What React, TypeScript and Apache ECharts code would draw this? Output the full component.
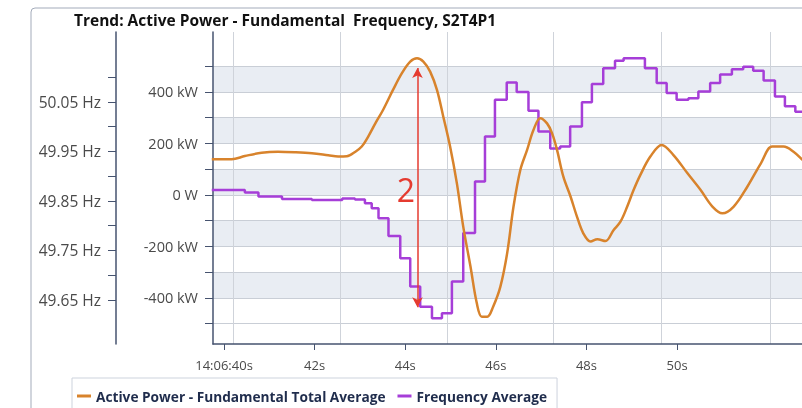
import React, { useEffect, useRef } from 'react';
import * as echarts from 'echarts';

const TITLE = 'Trend: Active Power - Fundamental  Frequency, S2T4P1';
const POWER_NAME = 'Active Power - Fundamental Total Average';
const FREQ_NAME = 'Frequency Average';

// time = seconds after 14:06:00
const powerTime = [39.73, 40.17, 40.46, 40.83, 41.19, 41.57, 41.94, 42.30, 42.52, 42.71, 42.90, 43.04, 43.18, 43.34, 43.51, 43.73, 43.93, 44.11, 44.26, 44.40, 44.55, 44.70, 44.84, 44.99, 45.14, 45.28, 45.44, 45.58, 45.69, 45.81, 45.94, 46.10, 46.25, 46.39, 46.54, 46.69, 46.83, 46.98, 47.13, 47.24, 47.35, 47.49, 47.65, 47.79, 47.93, 48.09, 48.24, 48.42, 48.60, 48.75, 48.90, 49.04, 49.19, 49.41, 49.66, 49.92, 50.23, 50.52, 50.78, 51.00, 51.25, 51.55, 51.85, 52.10, 52.35, 52.57, 52.77, 53.0];
const powerKW = [139, 139, 151, 164, 168, 166, 162, 154, 149, 150, 168, 188, 226, 278, 330, 408, 474, 518, 531, 518, 479, 408, 304, 188, 45, -123, -278, -421, -473, -473, -434, -356, -226, -45, 97, 175, 252, 298, 278, 240, 175, 71, -7, -84, -149, -181, -172, -179, -136, -104, -45, 19, 78, 149, 194, 155, 84, 19, -45, -71, -45, 32, 123, 188, 188, 168, 136, 95];

const freqTime = [39.73, 40.46, 40.76, 41.28, 41.94, 42.61, 42.89, 43.11, 43.26, 43.41, 43.63, 43.89, 44.11, 44.33, 44.59, 44.81, 45.03, 45.28, 45.54, 45.76, 45.98, 46.24, 46.46, 46.72, 46.94, 47.20, 47.42, 47.64, 47.90, 48.12, 48.37, 48.63, 48.82, 49.29, 49.55, 49.77, 49.99, 50.25, 50.47, 50.73, 50.95, 51.21, 51.46, 51.68, 51.91, 52.16, 52.38, 52.61, 53.0];
const freqHz = [49.872, 49.867, 49.859, 49.854, 49.852, 49.855, 49.853, 49.845, 49.835, 49.815, 49.779, 49.734, 49.677, 49.636, 49.613, 49.623, 49.687, 49.785, 49.889, 49.980, 50.054, 50.089, 50.070, 50.032, 49.990, 49.956, 49.960, 50.000, 50.049, 50.086, 50.118, 50.133, 50.138, 50.118, 50.088, 50.068, 50.054, 50.057, 50.071, 50.088, 50.105, 50.116, 50.121, 50.113, 50.093, 50.061, 50.041, 50.030, 50.030];

const timeTicks = [40, 42, 44, 46, 48, 50];
const timeGridLines = [40.2, 42.56, 44.92, 47.26, 49.65, 52.05];
const powerTicks = [-500, -400, -300, -200, -100, 0, 100, 200, 300, 400, 500];
const powerLabels = [-400, -200, 0, 200, 400];
const freqTicks = [49.65, 49.7, 49.75, 49.8, 49.85, 49.9, 49.95, 50.0, 50.05, 50.1];
const freqLabels = [49.65, 49.75, 49.85, 49.95, 50.05];

// annotation: peak-to-trough double arrow
const arrowTime = 44.27;
const arrowTop = 493;
const arrowBottom = -436;

const FONT = '"Open Sans", sans-serif';
const ORANGE = '#d8832c';
const PURPLE = '#a63ed8';
const AXIS = '#46536f';
const LABEL = '#4a4a4a';

export default function App() {
  const ref = useRef<HTMLDivElement>(null);
  useEffect(() => {
    if (!ref.current) return;
    const chart = echarts.init(ref.current, undefined, { renderer: 'svg' });
    const powerData = powerTime.map((t, i) => [t, powerKW[i]]);
    const freqData = freqTime.map((t, i) => [t, freqHz[i]]);
    chart.setOption({
      animation: false,
      textStyle: { fontFamily: FONT },
      title: {
        text: TITLE,
        left: 74,
        top: 12,
        padding: 0,
        textStyle: { fontFamily: FONT, fontSize: 15.5, fontWeight: 'bold', color: '#111' },
      },
      legend: {
        left: 72,
        top: 378,
        padding: [11, 10, 12, 5],
        borderColor: '#cdd3dd',
        borderWidth: 1,
        icon: 'rect',
        itemWidth: 14,
        itemHeight: 3,
        itemGap: 12,
        textStyle: { fontFamily: FONT, fontSize: 13.7, fontWeight: 'bold', color: '#1f2c4c' },
        data: [POWER_NAME, FREQ_NAME],
      },
      grid: { left: 213, top: 32, right: 0, bottom: 64 },
      xAxis: [
        {
          type: 'value',
          min: 39.757,
          max: 53.0,
          axisLine: { onZero: false, lineStyle: { color: AXIS, width: 1.5 } },
          axisTick: { length: 6, customValues: timeTicks, lineStyle: { color: AXIS } },
          axisLabel: {
            customValues: timeTicks,
            margin: 14,
            fontSize: 13,
            color: LABEL,
            fontFamily: FONT,
            formatter: (v: number) => (Math.round(v) === 40 ? '14:06:40s' : `${Math.round(v)}s`),
          },
          splitLine: { show: false },
        },
        {
          type: 'value',
          min: 39.757,
          max: 53.0,
          position: 'bottom',
          axisLine: { show: false, onZero: false },
          axisTick: { show: false, customValues: timeGridLines },
          axisLabel: { show: false },
          splitLine: { show: true, lineStyle: { color: '#cfd3da', width: 1 } },
        },
      ],
      yAxis: [
        {
          type: 'value',
          min: -579,
          max: 633,
          axisLine: { show: true, onZero: false, lineStyle: { color: AXIS, width: 1.5 } },
          axisTick: { show: true, length: 8, customValues: powerTicks, lineStyle: { color: AXIS } },
          axisLabel: {
            customValues: powerLabels,
            margin: 15,
            fontSize: 14.5,
            color: LABEL,
            fontFamily: FONT,
            formatter: (v: number) => (v === 0 ? '0 W' : `${v} kW`),
          },
          splitLine: { show: true, lineStyle: { color: '#c9ced6', width: 1 } },
          splitArea: { show: true, areaStyle: { color: ['rgba(0,0,0,0)', '#e9edf3'] } },
        },
        {
          type: 'value',
          position: 'left',
          offset: 97,
          min: 49.561,
          max: 50.191,
          axisLine: { show: true, onZero: false, lineStyle: { color: AXIS, width: 1.5 } },
          axisTick: { show: true, length: 8, customValues: freqTicks, lineStyle: { color: AXIS } },
          axisLabel: {
            customValues: freqLabels,
            margin: 15,
            fontSize: 15.5,
            color: LABEL,
            fontFamily: FONT,
            formatter: (v: number) => `${v.toFixed(2)} Hz`,
          },
          splitLine: { show: false },
        },
      ],
      graphic: [
        {
          type: 'rect',
          shape: { x: 31, y: 8, width: 800, height: 430, r: 4 },
          style: { fill: 'none', stroke: '#a3abba', lineWidth: 1 },
          silent: true,
        },
        {
          type: 'text',
          x: 406,
          y: 189,
          style: {
            text: '2',
            fontSize: 32,
            fontFamily: FONT,
            fill: '#e53b30',
            align: 'center',
            verticalAlign: 'middle',
          },
          z: 10,
        },
      ],
      series: [
        {
          name: POWER_NAME,
          type: 'line',
          xAxisIndex: 0,
          yAxisIndex: 0,
          data: powerData,
          smooth: 0.35,
          showSymbol: false,
          lineStyle: { color: ORANGE, width: 2.5 },
          itemStyle: { color: ORANGE },
          z: 3,
          markLine: {
            silent: true,
            symbol: ['arrow', 'arrow'],
            symbolSize: [8, 10],
            label: { show: false },
            lineStyle: { color: '#e53b30', width: 1.5, type: 'solid' },
            data: [[{ coord: [arrowTime, arrowTop] }, { coord: [arrowTime, arrowBottom] }]],
          },
        },
        {
          name: FREQ_NAME,
          type: 'line',
          xAxisIndex: 0,
          yAxisIndex: 1,
          data: freqData,
          step: 'end',
          showSymbol: false,
          lineStyle: { color: PURPLE, width: 2.5 },
          itemStyle: { color: PURPLE },
          z: 2,
        },
      ],
    });
    return () => chart.dispose();
  }, []);
  return <div ref={ref} style={{ position: 'fixed', left: 0, top: 0, width: 813, height: 408 }} />;
}
